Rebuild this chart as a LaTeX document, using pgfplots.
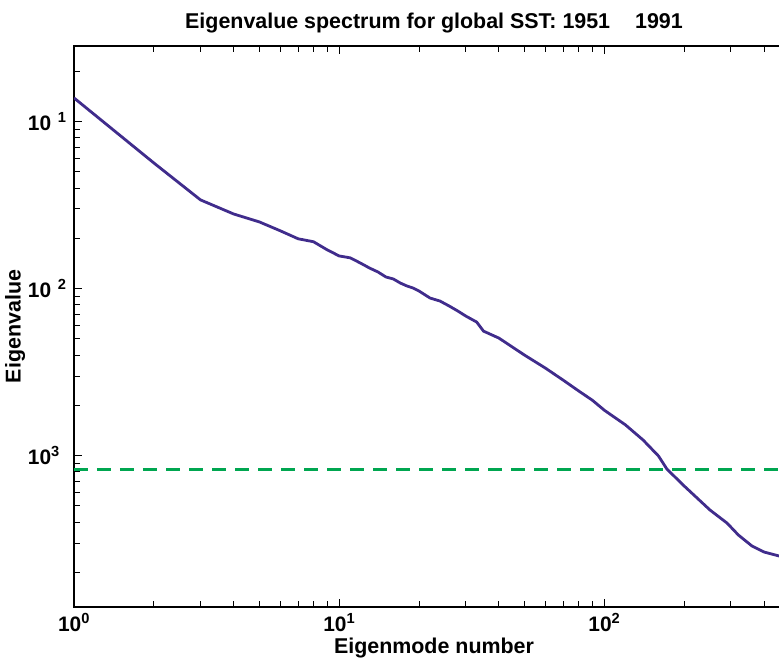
\documentclass[border=0pt]{standalone}
\usepackage{pgfplots}
\pgfplotsset{compat=1.18}
\usepackage{fontspec}
\setmainfont{Liberation Sans}
\definecolor{curve}{RGB}{64,44,140}
\definecolor{thr}{RGB}{0,166,80}
\newcommand\tl[1]{\textbf{10\textsuperscript{#1}}}
\pgfplotstableread{
mode val
1 0.1387
2 0.0566
3 0.0340
4 0.0280
5 0.0251
6 0.0222
7 0.0199
8 0.0191
9 0.0171
10 0.0157
11 0.0153
12 0.01426
13 0.0133
14 0.01259
15 0.01175
16 0.01143
17 0.01081
18 0.01038
19 0.01009
20 0.00968
22 0.00879
24 0.00843
26 0.00787
28 0.00735
30 0.00686
33 0.00631
35 0.00557
40 0.00506
45 0.00447
50 0.00400
60 0.00334
70 0.00283
80 0.00244
90 0.00215
100 0.00187
120 0.00153
140 0.00124
160 0.000995
172 0.000832
200 0.000658
250 0.000473
290 0.000395
320 0.000335
360 0.000288
400 0.000265
455 0.000251
520 0.000246
}\spectrum
\begin{document}
\begin{tikzpicture}
\begin{axis}[
  scale only axis, width=720bp, height=561bp,
  xmode=log, ymode=log,
  xmin=1, xmax=518.6, ymin=1.2417e-4, ymax=0.2838,
  xtick={1,10,100}, xticklabels={\tl{0},\tl{1},\tl{2}},
  minor xtick={2,3,4,5,6,7,8,9,20,30,40,50,60,70,80,90,200,300,400,500},
  ytick={0.1,0.01,0.001},
  minor ytick={0.2,0.09,0.08,0.07,0.06,0.05,0.04,0.03,0.02,0.009,0.008,0.007,0.006,0.005,0.004,0.003,0.002,0.0009,0.0008,0.0007,0.0006,0.0005,0.0004,0.0003,0.0002},
  yticklabels={\tl{\hspace{0.45em}1},\tl{\hspace{0.45em}2},\tl{3\hspace{0.45em}}},
  tick align=inside, major tick length=8bp, minor tick length=6bp,
  major tick style={black, line width=1bp},
  minor tick style={black, line width=1bp},
  axis line style={line width=1.3bp},
  ticklabel style={font=\fontsize{21}{24}\selectfont},
  xticklabel style={yshift=-3bp},
  yticklabel style={xshift=-4bp},
  title={\textbf{Eigenvalue spectrum for global SST: 1951\hspace{25bp}1991}},
  title style={font=\fontsize{21.5}{24}\selectfont, yshift=3bp},
  xlabel={\textbf{Eigenmode number}},
  ylabel={\textbf{Eigenvalue}},
  label style={font=\fontsize{21.5}{24}\selectfont},
  xlabel style={yshift=0bp},
  ylabel style={yshift=-4bp},
  clip=true,
]
\addplot[curve, line width=2.8bp] table[x=mode, y=val] {\spectrum};
\addplot[thr, line width=3bp, dash pattern=on 14bp off 9bp] coordinates {(1,0.00083) (455,0.00083)};
\end{axis}
\pgfresetboundingbox
\path[use as bounding box] (-74bp,-59bp) rectangle (705bp,607bp);
\end{tikzpicture}
\end{document}
